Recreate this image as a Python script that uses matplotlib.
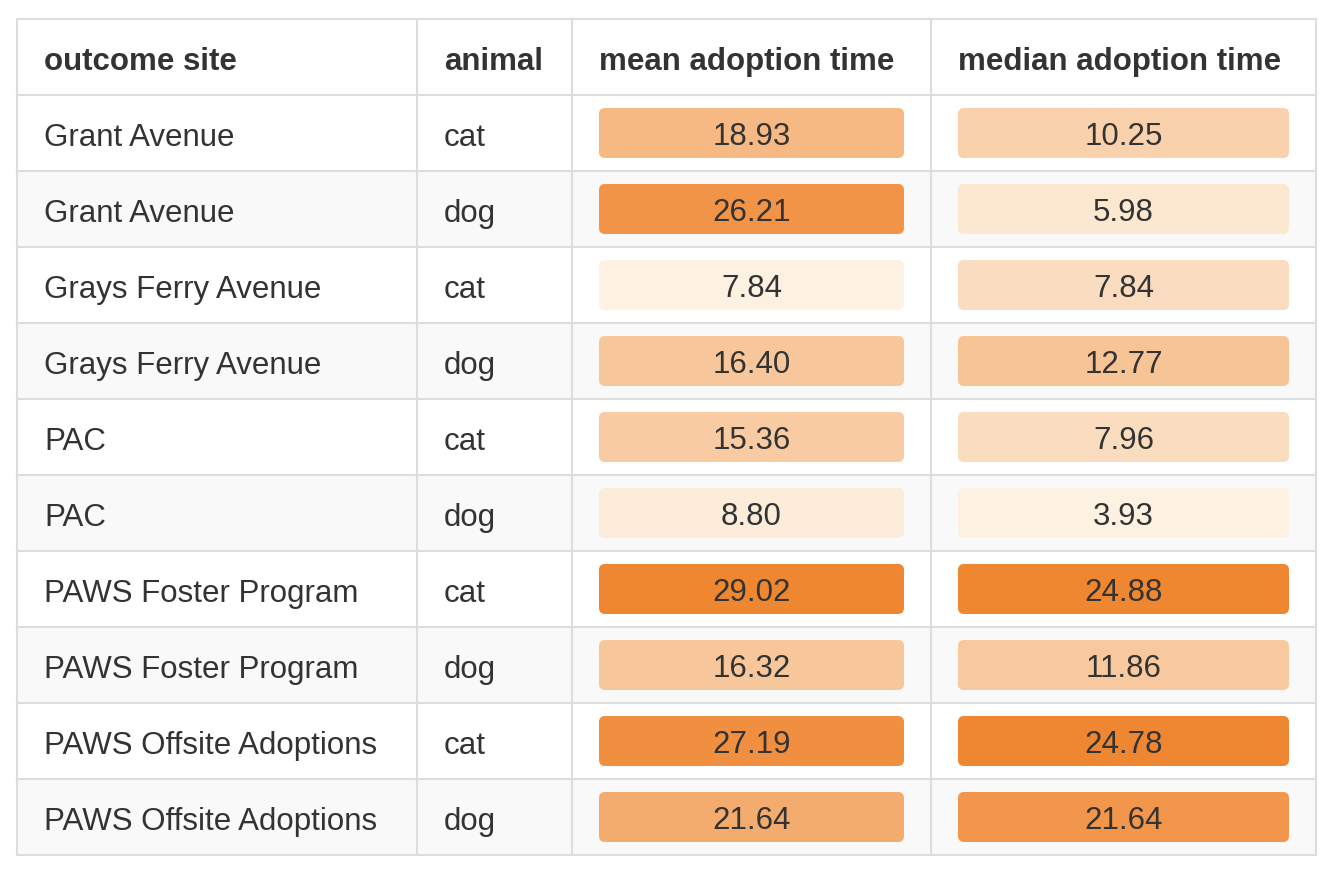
import numpy as np
import matplotlib
matplotlib.use("Agg")
from matplotlib import pyplot as plt
from matplotlib.patches import Rectangle, FancyBboxPatch
from matplotlib.colors import LinearSegmentedColormap, Normalize

headers = ["outcome site", "animal", "mean adoption time", "median adoption time"]
sites = ["Grant Avenue", "Grant Avenue", "Grays Ferry Avenue", "Grays Ferry Avenue",
         "PAC", "PAC", "PAWS Foster Program", "PAWS Foster Program",
         "PAWS Offsite Adoptions", "PAWS Offsite Adoptions"]
animals = ["cat", "dog"] * 5
mean_time = [18.93, 26.21, 7.84, 16.40, 15.36, 8.80, 29.02, 16.32, 27.19, 21.64]
median_time = [10.25, 5.98, 7.84, 12.77, 7.96, 3.93, 24.88, 11.86, 24.78, 21.64]

plt.rcParams['font.family'] = ['Liberation Sans', 'DejaVu Sans']
cmap = LinearSegmentedColormap.from_list("orng", ["#fdf1e1", "#ef8630"])

W, H = 1332, 878
fig = plt.figure(figsize=(W / 100, H / 100), dpi=100)
ax = fig.add_axes([0, 0, 1, 1])
ax.set_xlim(0, W)
ax.set_ylim(H, 0)
ax.axis("off")

col_x = [17, 417, 572, 931, 1316]
top, row_h = 20, 76
n_rows = len(sites) + 1
line_c = "#dddddd"
txt_c = "#333333"

# row backgrounds
for r in range(1, n_rows):
    if r % 2 == 0:
        ax.add_patch(Rectangle((col_x[0], top + r * row_h), col_x[-1] - col_x[0], row_h,
                               facecolor="#f9f9f9", edgecolor="none"))
# grid
for r in range(n_rows + 1):
    ax.plot([col_x[0], col_x[-1]], [top + r * row_h] * 2, color=line_c, lw=1.5)
for x in col_x:
    ax.plot([x, x], [top, top + n_rows * row_h], color=line_c, lw=1.5)

for c, h in enumerate(headers):
    ax.text(col_x[c] + 27, top + row_h / 2 + 4, h, fontsize=22.5, fontweight="bold",
            color=txt_c, va="center", ha="left")

for i in range(len(sites)):
    yc = top + (i + 1) * row_h + row_h / 2 + 4
    ax.text(col_x[0] + 27, yc, sites[i], fontsize=22.5, color=txt_c, va="center")
    ax.text(col_x[1] + 27, yc, animals[i], fontsize=22.5, color=txt_c, va="center")

for c, vals in ((2, mean_time), (3, median_time)):
    norm = Normalize(min(vals), max(vals))
    x0, x1 = col_x[c] + 27, col_x[c + 1] - 27
    for i, v in enumerate(vals):
        y0 = top + (i + 1) * row_h + 13
        ax.add_patch(FancyBboxPatch((x0, y0), x1 - x0, row_h - 26,
                                    boxstyle="round,pad=0,rounding_size=6",
                                    facecolor=cmap(norm(v)), edgecolor="none"))
        ax.text((x0 + x1) / 2, y0 + (row_h - 26) / 2 + 3, f"{v:.2f}", fontsize=22.5,
                color=txt_c, ha="center", va="center")

fig.savefig("out.png", dpi=100)
